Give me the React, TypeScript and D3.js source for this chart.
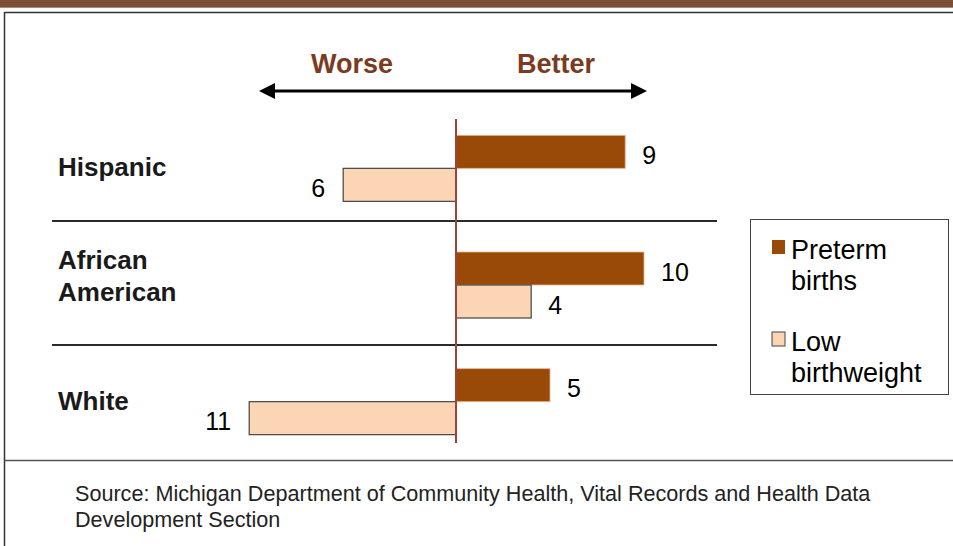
import React from "react";
import * as d3 from "d3";

const categories = ["Hispanic", "African American", "White"];
const categoryLines = [["Hispanic"], ["African", "American"], ["White"]];
const seriesNames = ["Preterm births", "Low birthweight"];
const pretermValues = [9, 10, 5];
const lowBirthweightValues = [-6, 4, -11];
const legendLines = [["Preterm", "births"], ["Low", "birthweight"]];
const directionLabels = ["Worse", "Better"];
const sourceLines = [
  "Source: Michigan Department of Community Health, Vital Records and Health Data",
  "Development Section",
];

const W = 953;
const H = 546;
const FONT = "'Liberation Sans', Arial, Helvetica, sans-serif";
const PRETERM = "#994a08";
const LBW = "#fcd5b5";
const BROWN_TEXT = "#7a3b20";

export default function App() {
  const x = d3.scaleLinear().domain([-12, 12]).range([456 - 12 * 18.8, 456 + 12 * 18.8]);
  const y = d3.scaleBand().domain(categories).range([110, 460]).padding(0);
  const barH = 33;
  const x0 = x(0);

  const series = [
    { name: seriesNames[0], values: pretermValues, fill: PRETERM, stroke: "#e8b48c", off: -barH },
    { name: seriesNames[1], values: lowBirthweightValues, fill: LBW, stroke: "#444", off: 0 },
  ];

  const separators = [221, 345];

  return (
    <svg
      width={W}
      height={H}
      style={{ position: "fixed", left: 0, top: 0, background: "#fff" }}
      fontFamily={FONT}
    >
      <rect x={0} y={0} width={W} height={7} fill="#7e4e37" />
      <line x1={0} x2={W} y1={7.5} y2={7.5} stroke="#b08a78" strokeWidth={1} />
      {/* frame */}
      <line x1={4.5} x2={W} y1={12.5} y2={12.5} stroke="#333" strokeWidth={1.5} />
      <line x1={4.5} x2={4.5} y1={12} y2={H} stroke="#333" strokeWidth={1.5} />
      <line x1={4.5} x2={W} y1={460.5} y2={460.5} stroke="#555" strokeWidth={1.5} />

      {/* direction labels and arrow */}
      <text x={352} y={73} textAnchor="middle" fontSize={27} fontWeight="bold" fill={BROWN_TEXT}>
        {directionLabels[0]}
      </text>
      <text x={556} y={73} textAnchor="middle" fontSize={27} fontWeight="bold" fill={BROWN_TEXT}>
        {directionLabels[1]}
      </text>
      <line x1={270} x2={636} y1={91} y2={91} stroke="#000" strokeWidth={3} />
      <path d="M259,91 L275,83 L275,99 Z" fill="#000" />
      <path d="M647,91 L631,83 L631,99 Z" fill="#000" />

      {/* separators */}
      {separators.map((s, i) => (
        <line key={i} x1={52} x2={717} y1={s} y2={s} stroke="#2a2a2a" strokeWidth={2} />
      ))}

      {/* bars */}
      {series.map((s, si) =>
        categories.map((c, ci) => {
          const v = s.values[ci];
          const cy = (y(c) as number) + y.bandwidth() / 2;
          const bx = Math.min(x(v), x0);
          const bw = Math.abs(x(v) - x0);
          const by = cy + s.off;
          const labelX = v >= 0 ? x(v) + 17 : x(v) - 18;
          return (
            <g key={`${si}-${ci}`}>
              <rect
                x={bx}
                y={by}
                width={bw}
                height={barH}
                fill={s.fill}
                stroke={s.stroke}
                strokeWidth={si === 0 ? 0.8 : 1.2}
              />
              <text
                x={labelX}
                y={by + barH / 2 + 12}
                textAnchor={v >= 0 ? "start" : "end"}
                fontSize={25}
                fill="#000"
              >
                {Math.abs(v)}
              </text>
            </g>
          );
        })
      )}

      {/* zero line */}
      <line x1={x0} x2={x0} y1={119} y2={443} stroke="#a3403a" strokeWidth={2} />

      {/* category labels */}
      {categories.map((c, ci) => {
        const lines = categoryLines[ci];
        const cy = (y(c) as number) + y.bandwidth() / 2;
        const lh = 32;
        const start = cy - ((lines.length - 1) * lh) / 2 + 8 - (lines.length > 1 ? 8 : 0);
        return (
          <text key={c} x={58} fontSize={26} fontWeight="bold" fill="#1a1a1a">
            {lines.map((l, li) => (
              <tspan key={li} x={58} y={start + li * lh}>
                {l}
              </tspan>
            ))}
          </text>
        );
      })}

      {/* legend */}
      <rect x={750.5} y={219.5} width={198} height={175} fill="#fff" stroke="#444" strokeWidth={1} />
      {legendLines.map((ls, i) => (
        <g key={i}>
          <rect
            x={772}
            y={240 + i * 92}
            width={13}
            height={14}
            fill={i === 0 ? PRETERM : LBW}
            stroke={i === 0 ? "none" : "#444"}
            strokeWidth={1}
          />
          {ls.map((l, li) => (
            <text key={li} x={791} y={259 + i * 91.5 + li * 31} fontSize={27} fill="#000">
              {l}
            </text>
          ))}
        </g>
      ))}

      {/* source */}
      {sourceLines.map((l, i) => (
        <text key={i} x={75} y={501 + i * 26} fontSize={21.6} fill="#222">
          {l}
        </text>
      ))}
    </svg>
  );
}
